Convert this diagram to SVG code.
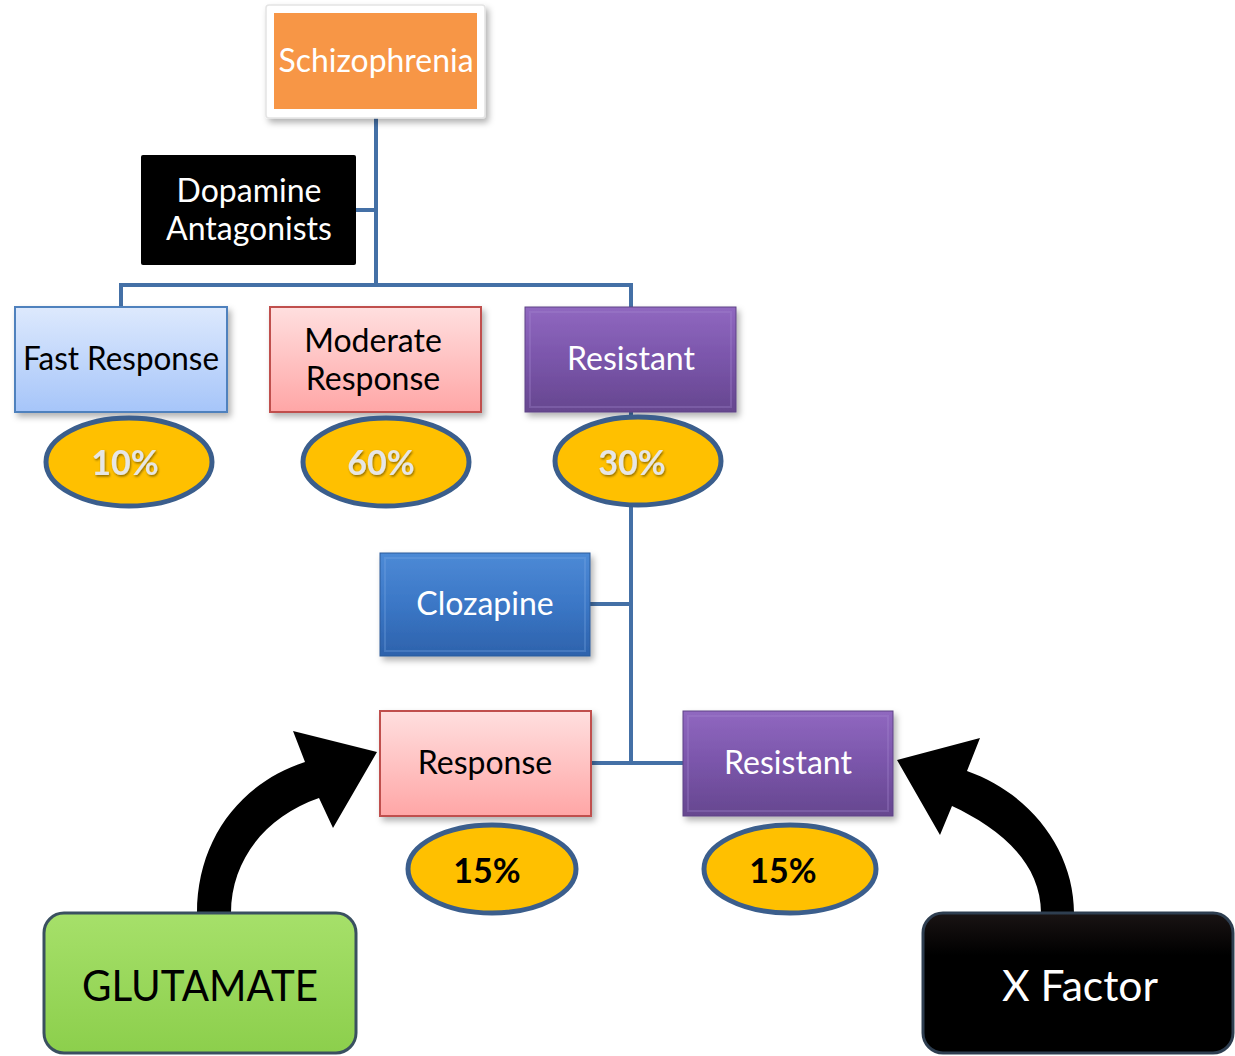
<svg xmlns="http://www.w3.org/2000/svg" width="1235" height="1056" viewBox="0 0 1235 1056">
<defs>
<style>
text{font-family:Lato,"Open Sans","Liberation Sans",sans-serif;text-anchor:middle;dominant-baseline:central}
.lbl{font-size:32px}
.w{fill:#ffffff}
.k{fill:#000000}
.pct{font-size:34px;font-weight:bold}
.pl{fill:#e6e6e6}
.ell{fill:#ffc000;stroke:#3b5e8c;stroke-width:5}
.con{fill:none;stroke:#4470a6;stroke-width:4}
.box{filter:url(#sh)}
.bev{fill:none;stroke-opacity:0.3;stroke-width:2}
</style>
<filter id="sh" x="-10%" y="-10%" width="125%" height="130%">
<feDropShadow dx="3" dy="4" stdDeviation="3" flood-color="#000" flood-opacity="0.3"/>
</filter>
<filter id="tsh" x="-10%" y="-10%" width="130%" height="130%">
<feDropShadow dx="1" dy="1.5" stdDeviation="0.8" flood-color="#000" flood-opacity="0.45"/>
</filter>
<linearGradient id="gBlueL" x1="0" y1="0" x2="0" y2="1"><stop offset="0" stop-color="#dde9fd"/><stop offset="1" stop-color="#a6c5f9"/></linearGradient>
<linearGradient id="gPink" x1="0" y1="0" x2="0" y2="1"><stop offset="0" stop-color="#ffdfdf"/><stop offset="1" stop-color="#ffa6a6"/></linearGradient>
<linearGradient id="gPurp" x1="0" y1="0" x2="0" y2="1"><stop offset="0" stop-color="#9068c0"/><stop offset="0.5" stop-color="#7a55aa"/><stop offset="1" stop-color="#66478f"/></linearGradient>
<linearGradient id="gBlue" x1="0" y1="0" x2="0" y2="1"><stop offset="0" stop-color="#4d8ad6"/><stop offset="0.5" stop-color="#3b77c6"/><stop offset="1" stop-color="#2d62ac"/></linearGradient>
<linearGradient id="gGreen" x1="0" y1="0" x2="0" y2="1"><stop offset="0" stop-color="#a6e06a"/><stop offset="1" stop-color="#8ccf4c"/></linearGradient>
<linearGradient id="gBlack" x1="0" y1="0" x2="0" y2="1"><stop offset="0" stop-color="#1a1414"/><stop offset="0.3" stop-color="#000"/><stop offset="1" stop-color="#000"/></linearGradient>
</defs>
<rect width="1235" height="1056" fill="#ffffff"/>

<g id="connectors">
<path class="con" d="M376,118 V287"/>
<path class="con" d="M356,210 H376"/>
<path class="con" d="M121,307 V285 H631 V307"/>
<path class="con" d="M631,412 V763"/>
<path class="con" d="M590,604 H631"/>
<path class="con" d="M591,763 H683"/>
<path d="M197,913 C197,840 240,783 305,762 L293,731 L377,752 L333,828 L319,798 C266,816 231,860 231,913 Z" fill="#000"/>
<path d="M1074,913 C1074,850 1030,793 967,771 L980,738 L897,760 L940,835 L952,806 C995,826 1041,860 1041,913 Z" fill="#000"/>
</g>

<g id="schizophrenia">
<rect x="266" y="5" width="219" height="113" rx="3" fill="#ffffff" stroke="#e4e4e4" stroke-width="1.5" class="box"/>
<rect x="274" y="13" width="203" height="96" fill="#f79646"/>
<text x="376" y="59" class="lbl w" textLength="195" lengthAdjust="spacingAndGlyphs">Schizophrenia</text>
</g>

<g id="dopamine">
<rect x="141" y="155" width="215" height="110" rx="2" fill="#000"/>
<text x="249" y="189" class="lbl w">Dopamine</text>
<text x="249" y="227" class="lbl w">Antagonists</text>
</g>

<g id="fast">
<rect x="15" y="307" width="212" height="105" fill="url(#gBlueL)" stroke="#4f81bd" stroke-width="2" class="box"/>
<text x="121" y="357" class="lbl k" textLength="196" lengthAdjust="spacingAndGlyphs">Fast Response</text>
</g>

<g id="moderate">
<rect x="270" y="307" width="211" height="105" fill="url(#gPink)" stroke="#c0504d" stroke-width="2" class="box"/>
<text x="373" y="339" class="lbl k">Moderate</text>
<text x="373" y="377" class="lbl k">Response</text>
</g>

<g id="resistant1">
<rect x="525" y="307" width="211" height="105" fill="url(#gPurp)" stroke="#5e4385" stroke-width="1" class="box"/>
<rect x="530" y="312" width="201" height="95" class="bev" stroke="#a788d0"/>
<text x="631" y="357" class="lbl w">Resistant</text>
</g>

<g id="p10">
<ellipse cx="129" cy="462" rx="83" ry="44" class="ell"/>
<text x="125" y="461" class="pct pl" filter="url(#tsh)">10%</text>
</g>
<g id="p60">
<ellipse cx="386" cy="462" rx="83" ry="44" class="ell"/>
<text x="381" y="461" class="pct pl" filter="url(#tsh)">60%</text>
</g>
<g id="p30">
<ellipse cx="638" cy="461" rx="83" ry="44" class="ell"/>
<text x="632" y="461" class="pct pl" filter="url(#tsh)">30%</text>
</g>

<g id="clozapine">
<rect x="380" y="553" width="210" height="103" fill="url(#gBlue)" stroke="#2a5a9a" stroke-width="1" class="box"/>
<rect x="385" y="558" width="200" height="93" class="bev" stroke="#7aa8e6"/>
<text x="485" y="602" class="lbl w">Clozapine</text>
</g>

<g id="response">
<rect x="380" y="711" width="211" height="105" fill="url(#gPink)" stroke="#c0504d" stroke-width="2" class="box"/>
<text x="485" y="761" class="lbl k">Response</text>
</g>

<g id="resistant2">
<rect x="683" y="711" width="210" height="105" fill="url(#gPurp)" stroke="#5e4385" stroke-width="1" class="box"/>
<rect x="688" y="716" width="200" height="95" class="bev" stroke="#a788d0"/>
<text x="788" y="761" class="lbl w">Resistant</text>
</g>

<g id="p15a">
<ellipse cx="492" cy="869" rx="84" ry="44" class="ell"/>
<text x="487" y="869" class="pct k">15%</text>
</g>
<g id="p15b">
<ellipse cx="790" cy="869" rx="86" ry="44" class="ell"/>
<text x="783" y="869" class="pct k">15%</text>
</g>

<g id="glutamate">
<rect x="44" y="913" width="312" height="140" rx="20" fill="url(#gGreen)" stroke="#3a5060" stroke-width="3"/>
<text x="200" y="985" font-size="42" class="k" textLength="236" lengthAdjust="spacingAndGlyphs">GLUTAMATE</text>
</g>

<g id="xfactor">
<rect x="923" y="913" width="310" height="140" rx="20" fill="url(#gBlack)" stroke="#2e3e50" stroke-width="3"/>
<text x="1080" y="985" font-size="42" class="w" textLength="156" lengthAdjust="spacingAndGlyphs">X Factor</text>
</g>
</svg>
